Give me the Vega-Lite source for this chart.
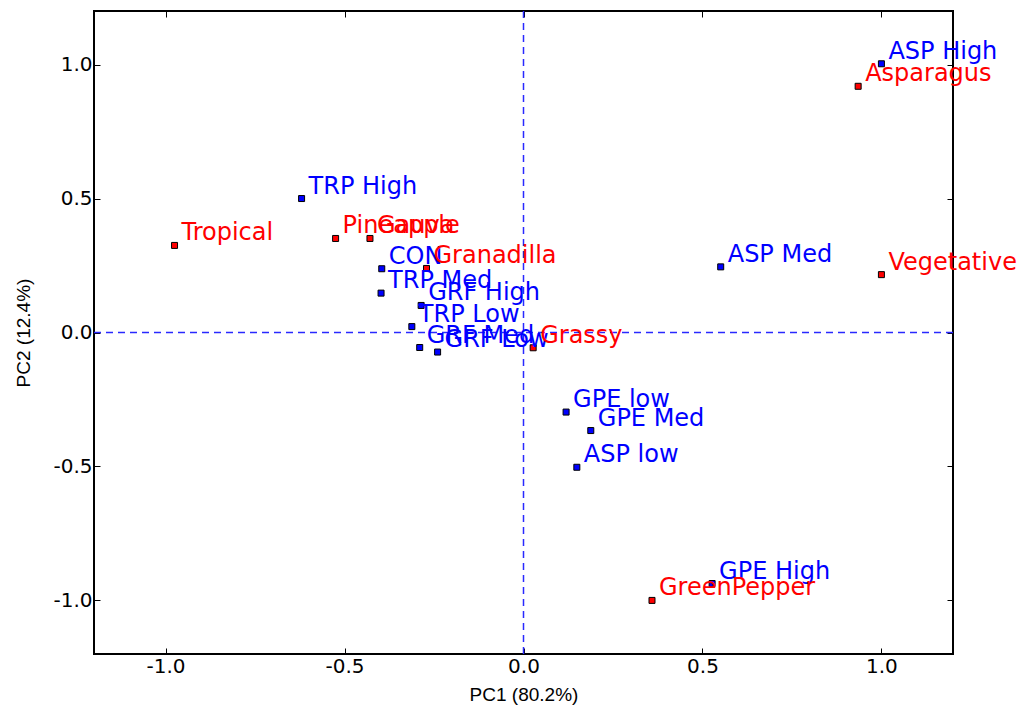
{
  "$schema": "https://vega.github.io/schema/vega-lite/v6.json",
  "width": 859,
  "height": 643,
  "autosize": {"type": "none"},
  "padding": {"left": 94, "top": 11, "right": 67, "bottom": 55},
  "background": "white",
  "config": {
    "view": {"stroke": "#000000", "strokeWidth": 2},
    "axis": {
      "grid": false,
      "domain": false,
      "tickColor": "#000000",
      "tickSize": -6,
      "tickWidth": 1,
      "labelFont": "DejaVu Sans",
      "labelFontSize": 20,
      "labelColor": "#000000",
      "titleFont": "Liberation Sans",
      "titleFontSize": 19,
      "titleFontWeight": "normal",
      "titleColor": "#000000"
    }
  },
  "datasets": {
    "pts": [
      {"label": "TRP High", "pc1": -0.620, "pc2": 0.500, "kind": "sample"},
      {"label": "CON", "pc1": -0.396, "pc2": 0.238, "kind": "sample"},
      {"label": "TRP Med", "pc1": -0.398, "pc2": 0.147, "kind": "sample"},
      {"label": "GRF High", "pc1": -0.286, "pc2": 0.101, "kind": "sample"},
      {"label": "TRP Low", "pc1": -0.312, "pc2": 0.022, "kind": "sample"},
      {"label": "GRF Med", "pc1": -0.290, "pc2": -0.056, "kind": "sample"},
      {"label": "GRF Low", "pc1": -0.240, "pc2": -0.073, "kind": "sample"},
      {"label": "GPE low", "pc1": 0.119, "pc2": -0.297, "kind": "sample"},
      {"label": "GPE Med", "pc1": 0.188, "pc2": -0.366, "kind": "sample"},
      {"label": "ASP low", "pc1": 0.149, "pc2": -0.503, "kind": "sample"},
      {"label": "GPE High", "pc1": 0.527, "pc2": -0.937, "kind": "sample"},
      {"label": "ASP Med", "pc1": 0.551, "pc2": 0.245, "kind": "sample"},
      {"label": "ASP High", "pc1": 1.000, "pc2": 1.003, "kind": "sample"},
      {"label": "Tropical", "pc1": -0.975, "pc2": 0.325, "kind": "attribute"},
      {"label": "Pineapple", "pc1": -0.525, "pc2": 0.351, "kind": "attribute"},
      {"label": "Gauva", "pc1": -0.429, "pc2": 0.351, "kind": "attribute"},
      {"label": "Granadilla", "pc1": -0.271, "pc2": 0.239, "kind": "attribute"},
      {"label": "Grassy", "pc1": 0.027, "pc2": -0.057, "kind": "attribute"},
      {"label": "GreenPepper", "pc1": 0.359, "pc2": -1.000, "kind": "attribute"},
      {"label": "Asparagus", "pc1": 0.935, "pc2": 0.919, "kind": "attribute"},
      {"label": "Vegetative", "pc1": 1.000, "pc2": 0.216, "kind": "attribute"}
    ],
    "origin": [{"v": 0}]
  },
  "resolve": {"axis": {"x": "independent", "y": "independent"}},
  "layer": [
    {
      "data": {"name": "origin"},
      "mark": {"type": "rule", "color": "#2929ff", "strokeWidth": 1.5, "strokeDash": [7, 5]},
      "encoding": {
        "x": {"field": "v", "type": "quantitative", "scale": {"domain": [-1.2, 1.2], "nice": false, "zero": false}, "axis": null}
      }
    },
    {
      "data": {"name": "origin"},
      "mark": {"type": "rule", "color": "#2929ff", "strokeWidth": 1.5, "strokeDash": [7, 5]},
      "encoding": {
        "y": {"field": "v", "type": "quantitative", "scale": {"domain": [-1.2, 1.2], "nice": false, "zero": false}, "axis": null}
      }
    },
    {
      "data": {"name": "pts"},
      "mark": {"type": "square", "size": 36, "stroke": "#000000", "strokeWidth": 1, "opacity": 1, "filled": true},
      "encoding": {
        "x": {"field": "pc1", "type": "quantitative", "scale": {"domain": [-1.2, 1.2], "nice": false, "zero": false},
          "axis": {"orient": "bottom", "title": "PC1 (80.2%)", "values": [-1, -0.5, 0, 0.5, 1], "labelPadding": 8, "titlePadding": 9,
            "labelExpr": "(datum.value < 0 ? '-' : '') + format(abs(datum.value), '.1f')"}},
        "y": {"field": "pc2", "type": "quantitative", "scale": {"domain": [-1.2, 1.2], "nice": false, "zero": false},
          "axis": {"orient": "left", "title": "PC2 (12.4%)", "values": [-1, -0.5, 0, 0.5, 1], "labelPadding": 8, "titlePadding": 19,
            "labelExpr": "(datum.value < 0 ? '-' : '') + format(abs(datum.value), '.1f')"}},
        "fill": {"field": "kind", "type": "nominal", "scale": {"domain": ["sample", "attribute"], "range": ["#0000ff", "#ff0000"]}, "legend": null}
      }
    },
    {
      "data": {"name": "pts"},
      "mark": {"type": "text", "align": "left", "baseline": "alphabetic", "dx": 7, "dy": -5, "font": "DejaVu Sans", "fontSize": 24},
      "encoding": {
        "x": {"field": "pc1", "type": "quantitative", "scale": {"domain": [-1.2, 1.2], "nice": false, "zero": false},
          "axis": {"orient": "top", "title": null, "labels": false, "values": [-1, -0.5, 0, 0.5, 1]}},
        "y": {"field": "pc2", "type": "quantitative", "scale": {"domain": [-1.2, 1.2], "nice": false, "zero": false},
          "axis": {"orient": "right", "title": null, "labels": false, "values": [-1, -0.5, 0, 0.5, 1]}},
        "text": {"field": "label", "type": "nominal"},
        "color": {"field": "kind", "type": "nominal", "scale": {"domain": ["sample", "attribute"], "range": ["#0000ff", "#ff0000"]}, "legend": null}
      }
    }
  ]
}
